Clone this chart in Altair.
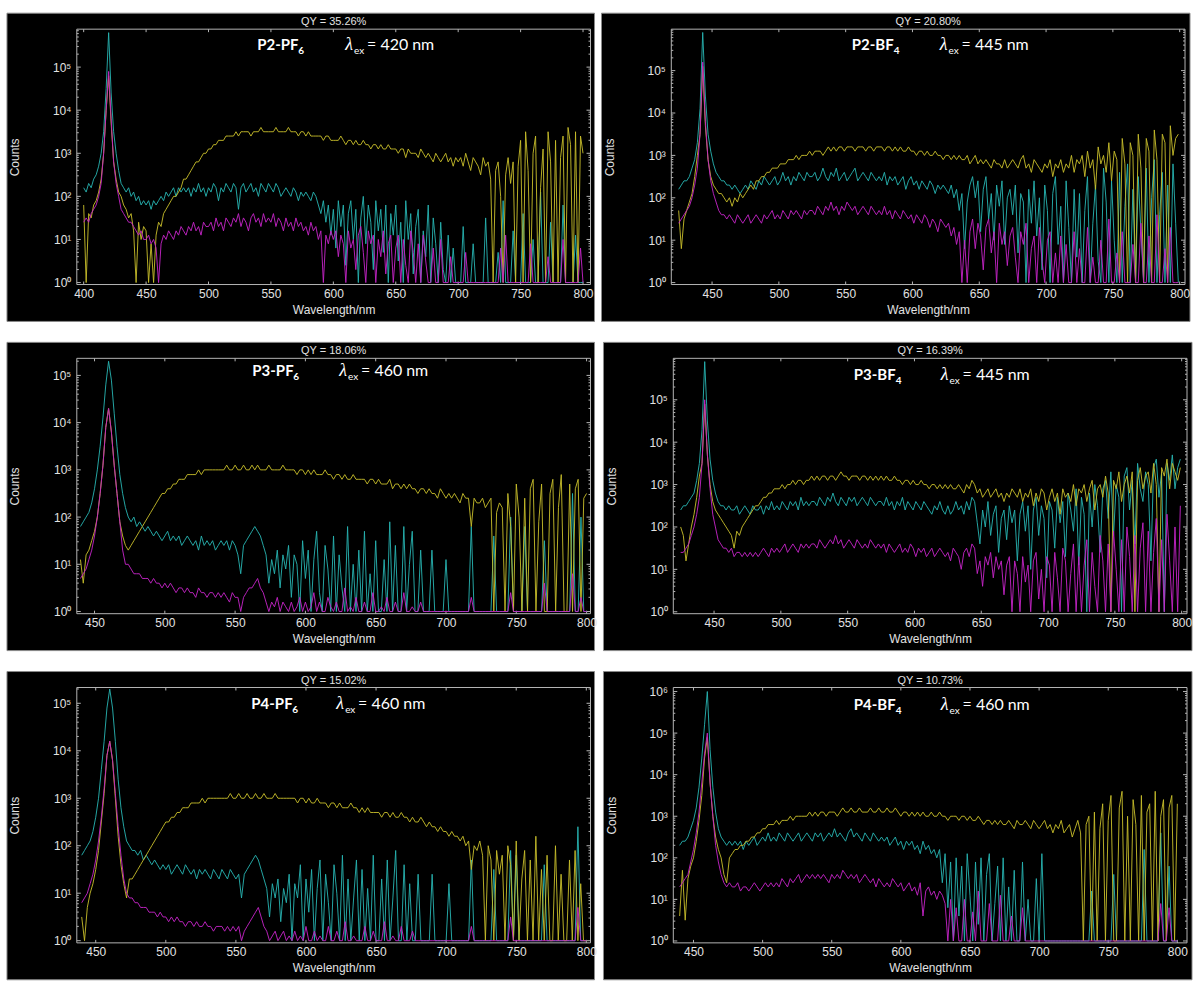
import altair as alt
import pandas as pd

# Emission spectra on a log count axis. Each trace is stored in dB
# (10*log10 of the counts), one sample every STEP_NM from the start wavelength.
STEP_NM = 2

# ---------------- P2-PF6, excitation 420 nm ----------------
p2pf6_start = 400
p2pf6_cyan = [
    22, 21, 23, 22, 24, 25, 27, 30, 35, 45, 58, 44, 35, 30, 26, 23, 22, 21, 22, 20, 21, 19, 20, 18, 19,
    18, 19, 17, 19, 18, 19, 20, 19, 21, 20, 21, 22, 20, 22, 21, 22, 21, 22, 20, 22, 21, 23, 21, 22, 20,
    22, 21, 23, 22, 19, 22, 21, 23, 22, 21, 23, 22, 17, 22, 23, 21, 22, 23, 21, 22, 20, 23, 22, 21, 23,
    22, 21, 23, 22, 20, 21, 22, 21, 20, 22, 21, 19, 21, 20, 21, 20, 19, 21, 20, 18, 16, 19, 14, 18, 11,
    17, 8, 19, 13, 18, 4, 16, 19, 10, 17, 0, 15, 20, 9, 18, 14, 3, 19, 12, 17, 7, 18, 0, 16, 11,
    18, 5, 14, 0, 19, 10, 16, 2, 13, 17, 0, 12, 6, 18, 0, 15, 9, 0, 14, 3, 0, 11, 0, 8, 0,
    0, 0, 13, 0, 0, 0, 9, 0, 0, 0, 0, 15, 0, 0, 0, 0, 7, 0, 19, 0, 0, 0, 12, 0, 0,
    0, 16, 0, 0, 0, 10, 0, 0, 21, 0, 0, 0, 14, 0, 0, 0, 0, 18, 0, 0, 0, 0, 11, 0, 0,
    0,
]
p2pf6_magenta = [
    14, 15, 14, 16, 17, 18, 20, 23, 30, 40, 49, 38, 28, 23, 20, 17, 16, 15, 14, 14, 13, 12, 11, 12, 10,
    10, 11, 9, 10, 8, 0, 9, 11, 10, 12, 11, 10, 12, 11, 13, 12, 11, 13, 12, 14, 12, 13, 11, 14, 13,
    13, 14, 12, 15, 13, 14, 12, 15, 14, 13, 15, 14, 16, 13, 15, 14, 12, 15, 16, 14, 15, 13, 16, 14, 15,
    14, 16, 13, 15, 14, 12, 15, 13, 14, 12, 15, 13, 14, 12, 13, 11, 14, 12, 13, 10, 12, 0, 11, 9, 12,
    10, 12, 6, 11, 9, 0, 12, 8, 10, 3, 11, 13, 7, 0, 12, 9, 11, 0, 10, 6, 12, 2, 9, 11, 0,
    8, 11, 0, 10, 4, 0, 12, 7, 0, 9, 0, 11, 5, 0, 0, 8, 0, 0, 10, 0, 0, 0, 6, 0, 0,
    0, 0, 0, 7, 0, 0, 0, 0, 0, 0, 0, 0, 0, 0, 0, 0, 0, 8, 0, 11, 0, 0, 0, 0, 0,
    0, 0, 0, 0, 9, 0, 0, 0, 0, 0, 0, 6, 0, 0, 0, 0, 0, 10, 0, 0, 0, 0, 0, 0, 8,
    0,
]
p2pf6_yellow = [
    18, 0, 16, 15, 18, 19, 21, 24, 30, 40, 48, 37, 28, 24, 21, 20, 18, 17, 15, 16, 12, 0, 14, 10, 13,
    12, 0, 9, 0, 11, 14, 13, 16, 17, 18, 19, 20, 20, 21, 22, 24, 24, 25, 26, 27, 28, 28, 29, 30, 30,
    31, 31, 32, 32, 33, 33, 33, 34, 34, 34, 34, 35, 34, 35, 35, 35, 35, 34, 35, 35, 35, 36, 35, 35, 35,
    35, 35, 36, 35, 35, 35, 35, 36, 35, 35, 35, 34, 35, 35, 34, 35, 34, 34, 34, 34, 34, 33, 34, 34, 33,
    33, 33, 33, 34, 33, 32, 33, 33, 32, 33, 32, 32, 33, 32, 32, 31, 32, 32, 31, 32, 31, 31, 32, 31, 31,
    31, 30, 31, 31, 29, 31, 30, 30, 30, 29, 31, 30, 29, 30, 29, 28, 30, 29, 28, 29, 30, 28, 29, 27, 29,
    28, 29, 27, 30, 28, 26, 29, 28, 27, 25, 29, 27, 28, 24, 0, 26, 28, 20, 0, 25, 29, 23, 28, 0, 27,
    33, 0, 35, 26, 0, 30, 34, 0, 22, 31, 0, 35, 28, 0, 33, 0, 29, 34, 0, 36, 32, 0, 35, 0, 34,
    30,
]

# ---------------- P2-BF4, excitation 445 nm ----------------
p2bf4_start = 425
p2bf4_cyan = [
    22, 23, 24, 24, 25, 27, 29, 33, 41, 59, 44, 35, 31, 28, 26, 25, 24, 24, 23, 23, 22, 23, 22, 21, 22,
    23, 22, 24, 23, 22, 24, 23, 25, 24, 23, 24, 25, 23, 24, 26, 24, 25, 23, 25, 24, 26, 25, 24, 26, 25,
    25, 26, 24, 25, 27, 25, 24, 26, 25, 27, 24, 25, 26, 24, 25, 26, 27, 24, 25, 26, 25, 24, 26, 25, 24,
    25, 24, 26, 23, 25, 24, 25, 23, 24, 25, 22, 24, 25, 23, 24, 22, 24, 23, 22, 24, 23, 21, 23, 22, 23,
    22, 21, 23, 20, 22, 17, 21, 8, 19, 23, 25, 20, 24, 12, 22, 25, 15, 21, 10, 23, 18, 24, 9, 20, 22,
    16, 23, 7, 21, 19, 0, 22, 14, 24, 11, 20, 3, 23, 17, 0, 21, 25, 9, 18, 0, 24, 13, 0, 22, 6,
    21, 0, 17, 25, 0, 14, 23, 5, 0, 27, 19, 0, 24, 10, 0, 26, 0, 18, 28, 0, 22, 0, 25, 12, 0,
    27, 0, 20, 29, 0, 16, 26, 0, 23, 0, 28, 14, 0,
]
p2bf4_magenta = [
    14, 15, 16, 17, 18, 20, 23, 27, 35, 52, 38, 29, 24, 21, 19, 17, 16, 16, 15, 16, 15, 14, 16, 15, 14,
    15, 16, 14, 15, 16, 15, 14, 16, 15, 16, 17, 15, 16, 15, 17, 16, 15, 17, 16, 17, 16, 15, 17, 16, 17,
    17, 16, 18, 17, 16, 18, 17, 19, 17, 18, 16, 18, 17, 19, 18, 17, 18, 16, 17, 18, 17, 16, 18, 17, 16,
    17, 16, 18, 16, 17, 15, 17, 16, 15, 17, 16, 15, 16, 14, 16, 15, 14, 16, 15, 13, 15, 14, 12, 15, 14,
    13, 14, 11, 13, 9, 12, 0, 10, 0, 12, 15, 8, 14, 11, 3, 13, 15, 7, 12, 0, 14, 9, 12, 4, 11,
    13, 6, 0, 12, 9, 14, 0, 8, 11, 0, 13, 5, 0, 10, 12, 0, 7, 0, 11, 0, 9, 0, 0, 12, 0,
    8, 0, 0, 13, 0, 6, 0, 0, 10, 0, 0, 15, 0, 0, 7, 0, 12, 0, 0, 0, 9, 0, 0, 14, 0,
    0, 11, 0, 0, 16, 0, 0, 8, 0, 13, 0, 0, 0,
]
p2bf4_yellow = [
    17, 8, 15, 17, 19, 21, 25, 30, 35, 51, 37, 29, 25, 23, 22, 21, 21, 20, 19, 20, 18, 20, 19, 21, 20,
    21, 22, 23, 22, 24, 24, 25, 25, 26, 26, 27, 27, 27, 28, 28, 28, 29, 29, 29, 30, 29, 30, 30, 30, 31,
    30, 31, 31, 31, 30, 31, 32, 31, 32, 31, 32, 32, 31, 32, 32, 32, 31, 32, 32, 32, 31, 32, 32, 31, 32,
    32, 32, 31, 32, 32, 31, 32, 31, 32, 31, 31, 32, 31, 31, 30, 31, 31, 30, 31, 30, 30, 31, 30, 30, 29,
    30, 30, 29, 30, 29, 30, 29, 29, 30, 28, 29, 30, 28, 29, 28, 29, 28, 27, 29, 28, 28, 27, 29, 27, 28,
    29, 28, 27, 29, 30, 27, 28, 26, 29, 28, 27, 26, 28, 27, 29, 25, 28, 27, 29, 26, 28, 27, 30, 26, 29,
    28, 30, 25, 31, 27, 29, 22, 32, 28, 30, 26, 33, 24, 31, 29, 0, 34, 28, 0, 33, 30, 0, 35, 27, 0,
    34, 31, 0, 36, 29, 0, 35, 33, 0, 37, 30, 34, 35,
]

# ---------------- P3-PF6, excitation 460 nm ----------------
p3pf6_start = 440
p3pf6_cyan = [
    18, 19, 20, 21, 23, 26, 30, 35, 41, 48, 53, 49, 42, 35, 29, 25, 22, 20, 19, 20, 18, 19, 18, 17, 18,
    17, 16, 17, 16, 15, 16, 17, 15, 16, 15, 16, 14, 15, 16, 15, 14, 15, 13, 16, 14, 15, 14, 15, 13, 14,
    15, 14, 15, 13, 15, 14, 12, 8, 14, 15, 16, 17, 18, 17, 16, 14, 12, 6, 11, 8, 13, 5, 12, 9, 14,
    3, 12, 10, 0, 15, 7, 13, 0, 11, 17, 4, 0, 14, 9, 0, 16, 0, 12, 5, 0, 18, 0, 10, 0, 13,
    0, 17, 0, 8, 0, 15, 0, 0, 11, 0, 19, 0, 14, 0, 0, 18, 0, 10, 17, 0, 0, 13, 0, 0, 0,
    13, 0, 0, 0, 0, 11, 0, 0, 0, 0, 0, 0, 0, 0, 18, 0, 0, 0, 0, 0, 0, 0, 16, 0, 0,
    0, 0, 0, 20, 0, 0, 0, 0, 18, 0, 0, 0, 0, 0, 0, 15, 0, 0, 0, 0, 0, 0, 0, 0, 0,
    25, 0, 0, 20, 0, 0,
]
p3pf6_magenta = [
    7, 8, 9, 11, 13, 16, 20, 25, 31, 39, 43, 38, 31, 25, 19, 13, 10, 10, 9, 8, 8, 8, 7, 7, 7,
    6, 7, 6, 6, 5, 6, 5, 6, 5, 4, 5, 5, 4, 5, 4, 4, 3, 5, 4, 4, 3, 4, 4, 3, 4,
    3, 4, 3, 2, 4, 3, 3, 0, 3, 4, 5, 5, 6, 7, 5, 4, 2, 0, 2, 1, 3, 0, 2, 1, 0,
    2, 0, 1, 3, 0, 2, 0, 1, 4, 0, 2, 0, 0, 3, 1, 0, 2, 0, 0, 5, 0, 1, 0, 3, 0,
    0, 2, 0, 0, 4, 0, 0, 1, 0, 3, 0, 0, 2, 0, 0, 4, 0, 0, 1, 0, 0, 2, 0, 0, 0,
    0, 0, 0, 0, 0, 0, 0, 0, 0, 0, 0, 0, 0, 0, 3, 0, 0, 0, 0, 0, 0, 0, 0, 0, 0,
    0, 0, 0, 4, 0, 0, 0, 0, 0, 0, 0, 0, 0, 0, 0, 6, 0, 0, 0, 0, 0, 0, 0, 0, 0,
    8, 0, 0, 3, 0, 0,
]
p3pf6_yellow = [
    11, 6, 12, 13, 15, 17, 20, 25, 31, 39, 43, 38, 31, 25, 19, 16, 14, 13, 14, 15, 16, 17, 18, 19, 20,
    21, 22, 23, 24, 25, 25, 26, 26, 27, 27, 28, 28, 28, 29, 29, 29, 29, 30, 29, 30, 30, 30, 30, 30, 30,
    30, 30, 31, 30, 30, 31, 30, 30, 31, 30, 30, 31, 30, 31, 30, 30, 30, 31, 30, 30, 30, 30, 31, 30, 30,
    30, 30, 29, 30, 30, 29, 30, 29, 30, 29, 29, 29, 30, 29, 29, 28, 29, 29, 28, 29, 28, 28, 29, 28, 28,
    28, 28, 27, 28, 28, 27, 28, 27, 27, 27, 28, 26, 27, 27, 26, 27, 26, 27, 26, 26, 25, 26, 26, 25, 26,
    25, 25, 24, 26, 25, 24, 25, 24, 25, 24, 23, 25, 24, 24, 18, 24, 23, 23, 24, 22, 23, 24, 0, 21, 23,
    22, 0, 25, 18, 0, 27, 20, 0, 24, 0, 26, 28, 0, 19, 27, 0, 0, 25, 28, 0, 22, 29, 0, 0, 27,
    0, 26, 28, 0, 24, 25,
]

# ---------------- P3-BF4, excitation 445 nm ----------------
p3bf4_start = 425
p3bf4_cyan = [
    24, 25, 25, 26, 27, 28, 31, 35, 43, 59, 45, 36, 31, 28, 26, 25, 25, 24, 25, 24, 24, 25, 23, 24, 25,
    24, 23, 25, 24, 24, 25, 23, 25, 24, 26, 24, 25, 24, 26, 25, 24, 26, 25, 26, 24, 27, 25, 26, 25, 26,
    26, 25, 27, 26, 25, 27, 26, 28, 26, 25, 27, 26, 25, 27, 26, 27, 25, 26, 27, 26, 25, 27, 26, 25, 26,
    26, 25, 27, 25, 26, 24, 26, 25, 27, 24, 26, 25, 24, 26, 25, 24, 26, 25, 24, 23, 25, 24, 26, 24, 23,
    25, 23, 24, 26, 24, 25, 23, 26, 24, 27, 26, 21, 16, 24, 20, 26, 18, 23, 25, 14, 22, 24, 17, 25, 21,
    24, 12, 23, 26, 19, 25, 10, 24, 27, 18, 25, 22, 8, 26, 24, 15, 27, 21, 26, 13, 28, 24, 19, 29, 11,
    27, 23, 0, 28, 20, 30, 25, 14, 29, 31, 22, 33, 18, 30, 27, 0, 32, 34, 24, 31, 16, 35, 29, 26, 33,
    30, 12, 34, 36, 27, 33, 0, 35, 31, 37, 29, 34, 36,
]
p3bf4_magenta = [
    14, 14, 15, 16, 18, 20, 23, 27, 35, 50, 37, 29, 23, 20, 17, 16, 15, 15, 14, 15, 13, 14, 14, 13, 14,
    13, 14, 13, 14, 13, 14, 15, 14, 13, 15, 14, 15, 14, 15, 16, 14, 15, 16, 15, 14, 16, 15, 16, 15, 16,
    16, 15, 17, 16, 15, 16, 17, 16, 18, 16, 17, 15, 16, 17, 16, 15, 17, 16, 15, 16, 15, 17, 16, 15, 16,
    15, 16, 14, 16, 15, 14, 15, 16, 14, 15, 14, 16, 15, 13, 15, 14, 15, 13, 14, 15, 13, 14, 15, 14, 13,
    14, 12, 15, 14, 13, 10, 14, 15, 13, 16, 15, 9, 12, 6, 13, 11, 14, 8, 13, 10, 12, 4, 11, 13, 0,
    12, 9, 0, 13, 7, 11, 0, 12, 14, 3, 10, 0, 13, 11, 0, 14, 8, 0, 15, 12, 0, 9, 16, 0, 13,
    0, 11, 17, 0, 14, 6, 0, 18, 12, 0, 16, 0, 19, 10, 0, 17, 0, 20, 13, 0, 18, 0, 15, 21, 0,
    19, 0, 14, 22, 0, 17, 0, 23, 12, 0, 20, 0, 25,
]
p3bf4_yellow = [
    20, 18, 12, 16, 20, 23, 27, 32, 35, 49, 37, 30, 26, 24, 23, 22, 21, 20, 19, 18, 15, 19, 18, 20, 21,
    22, 23, 24, 25, 25, 26, 27, 27, 28, 28, 29, 29, 29, 30, 29, 30, 30, 31, 30, 31, 31, 30, 31, 31, 32,
    31, 32, 31, 32, 32, 31, 32, 32, 31, 32, 33, 32, 32, 31, 32, 32, 32, 31, 32, 32, 31, 32, 31, 32, 31,
    32, 31, 32, 31, 31, 32, 31, 31, 30, 31, 31, 30, 31, 30, 30, 31, 30, 30, 29, 30, 30, 29, 30, 29, 30,
    29, 30, 29, 29, 30, 29, 28, 30, 29, 31, 30, 28, 29, 27, 28, 29, 27, 28, 29, 27, 28, 26, 28, 27, 29,
    28, 27, 29, 26, 28, 27, 29, 25, 28, 26, 29, 28, 24, 27, 29, 26, 28, 23, 29, 27, 28, 26, 30, 25, 29,
    28, 30, 26, 29, 31, 24, 29, 30, 27, 32, 28, 0, 31, 29, 33, 26, 30, 32, 28, 33, 0, 31, 34, 29, 32,
    33, 28, 35, 30, 0, 34, 32, 36, 29, 35, 33, 31, 34,
]

# ---------------- P4-PF6, excitation 460 nm ----------------
p4pf6_start = 440
p4pf6_cyan = [
    18, 19, 20, 21, 23, 26, 30, 36, 42, 49, 53, 49, 42, 34, 28, 24, 21, 20, 19, 19, 18, 19, 17, 18, 17,
    16, 17, 16, 15, 16, 15, 16, 14, 15, 16, 15, 14, 16, 15, 14, 15, 13, 15, 14, 15, 14, 13, 15, 14, 13,
    15, 14, 13, 15, 14, 13, 14, 9, 14, 15, 16, 17, 18, 17, 15, 13, 11, 5, 12, 9, 13, 4, 11, 8, 14,
    0, 12, 9, 16, 0, 13, 6, 15, 0, 11, 17, 0, 14, 8, 0, 16, 10, 0, 18, 0, 13, 0, 9, 17, 0,
    15, 0, 11, 0, 18, 0, 0, 13, 0, 17, 0, 9, 19, 0, 0, 16, 0, 12, 0, 0, 14, 0, 0, 0, 0,
    14, 0, 0, 0, 0, 0, 12, 0, 0, 0, 0, 0, 0, 0, 17, 0, 0, 0, 0, 0, 0, 0, 15, 0, 0,
    0, 0, 0, 19, 0, 18, 0, 0, 0, 0, 0, 0, 0, 0, 0, 16, 0, 0, 0, 0, 0, 0, 0, 0, 0,
    0, 0, 24, 0, 0, 0,
]
p4pf6_magenta = [
    8, 9, 10, 12, 14, 17, 21, 26, 32, 39, 42, 38, 31, 24, 18, 13, 10, 9, 9, 8, 8, 7, 7, 7, 6,
    6, 6, 5, 6, 5, 5, 4, 5, 4, 5, 4, 4, 3, 4, 4, 3, 4, 3, 3, 4, 3, 3, 2, 3, 3,
    3, 2, 3, 2, 3, 2, 3, 0, 2, 3, 4, 5, 6, 7, 5, 3, 2, 0, 1, 2, 0, 1, 2, 0, 1,
    0, 2, 0, 1, 0, 3, 0, 0, 2, 0, 1, 0, 0, 3, 0, 0, 2, 0, 0, 4, 0, 0, 1, 0, 0,
    0, 3, 0, 0, 2, 0, 0, 0, 4, 0, 0, 1, 0, 0, 3, 0, 0, 0, 2, 0, 0, 0, 0, 0, 0,
    0, 0, 0, 0, 0, 0, 0, 0, 0, 0, 0, 0, 0, 0, 3, 0, 0, 0, 0, 0, 0, 0, 0, 0, 0,
    0, 0, 0, 5, 0, 0, 0, 0, 0, 0, 0, 0, 0, 0, 0, 0, 0, 0, 0, 0, 0, 0, 0, 0, 0,
    0, 0, 7, 0, 0, 0,
]
p4pf6_yellow = [
    5, 0, 7, 10, 12, 15, 19, 25, 31, 39, 42, 38, 30, 22, 16, 12, 9, 13, 13, 14, 15, 16, 17, 18, 19,
    20, 21, 22, 23, 24, 25, 25, 26, 26, 27, 27, 28, 28, 28, 29, 29, 29, 29, 30, 29, 30, 30, 30, 30, 30,
    30, 30, 30, 31, 30, 30, 31, 30, 30, 31, 30, 30, 31, 30, 30, 31, 30, 30, 30, 31, 30, 30, 30, 30, 30,
    30, 30, 29, 30, 30, 29, 30, 29, 29, 30, 29, 29, 29, 28, 29, 29, 28, 29, 28, 28, 28, 29, 28, 28, 27,
    28, 27, 28, 27, 27, 27, 27, 26, 27, 27, 26, 27, 26, 26, 27, 26, 26, 25, 26, 25, 25, 26, 25, 24, 25,
    24, 24, 23, 24, 23, 23, 22, 23, 22, 22, 21, 22, 20, 21, 15, 20, 19, 21, 18, 0, 20, 17, 0, 19, 14,
    18, 0, 20, 16, 0, 21, 0, 13, 19, 0, 17, 0, 22, 0, 15, 0, 18, 0, 0, 20, 0, 14, 0, 0, 17,
    0, 19, 0, 12, 0, 0,
]

# ---------------- P4-BF4, excitation 460 nm ----------------
p4bf4_start = 440
p4bf4_cyan = [
    23, 24, 24, 25, 27, 29, 32, 37, 44, 52, 60, 46, 37, 31, 27, 25, 24, 23, 24, 23, 24, 23, 24, 22, 24,
    23, 24, 25, 23, 24, 25, 24, 26, 24, 25, 24, 26, 25, 24, 26, 25, 24, 25, 26, 24, 25, 26, 25, 24, 26,
    25, 26, 24, 25, 26, 25, 27, 25, 26, 25, 24, 26, 27, 25, 26, 25, 24, 26, 25, 24, 26, 25, 24, 25, 24,
    25, 23, 24, 25, 23, 24, 22, 24, 23, 24, 22, 23, 21, 24, 22, 23, 21, 22, 20, 22, 14, 21, 8, 19, 0,
    20, 6, 18, 0, 21, 11, 0, 19, 4, 20, 0, 16, 21, 0, 9, 18, 0, 20, 0, 13, 0, 17, 0, 0, 19,
    0, 10, 0, 0, 15, 0, 21, 0, 0, 0, 0, 0, 0, 0, 0, 0, 0, 0, 0, 0, 0, 0, 0, 0, 12,
    0, 0, 0, 0, 0, 0, 0, 16, 0, 0, 0, 0, 0, 0, 0, 0, 0, 0, 22, 0, 0, 0, 0, 0, 26,
    0, 0, 18, 0, 0, 0,
]
p4bf4_magenta = [
    13, 14, 15, 16, 19, 22, 26, 31, 38, 45, 50, 38, 30, 23, 19, 16, 14, 13, 14, 13, 13, 14, 12, 13, 13,
    12, 13, 14, 13, 12, 13, 14, 13, 14, 13, 14, 13, 15, 14, 13, 15, 14, 15, 16, 14, 15, 16, 15, 16, 15,
    16, 15, 16, 15, 14, 16, 15, 16, 15, 17, 16, 15, 16, 15, 16, 14, 15, 16, 15, 14, 15, 13, 15, 14, 13,
    14, 13, 15, 14, 13, 14, 12, 13, 14, 12, 13, 11, 14, 6, 12, 13, 11, 12, 10, 12, 11, 9, 0, 10, 0,
    8, 0, 0, 10, 0, 0, 7, 0, 12, 0, 0, 0, 9, 0, 0, 0, 11, 0, 0, 0, 6, 0, 0, 0, 8,
    0, 0, 0, 0, 0, 0, 0, 0, 0, 0, 0, 0, 0, 0, 0, 0, 0, 0, 0, 0, 0, 0, 0, 0, 0,
    0, 0, 0, 0, 0, 0, 0, 0, 0, 0, 0, 0, 0, 0, 0, 0, 0, 0, 0, 0, 0, 0, 0, 0, 9,
    0, 0, 8, 0, 0, 0,
]
p4bf4_yellow = [
    6, 17, 5, 15, 18, 20, 24, 29, 35, 44, 49, 38, 30, 25, 22, 20, 16, 14, 20, 21, 22, 22, 23, 23, 24,
    24, 25, 25, 26, 26, 27, 27, 28, 28, 28, 29, 28, 29, 29, 29, 30, 29, 30, 30, 30, 30, 30, 31, 30, 31,
    30, 31, 31, 30, 31, 31, 31, 30, 31, 32, 31, 31, 32, 31, 31, 32, 31, 31, 31, 32, 31, 31, 32, 31, 31,
    32, 31, 31, 32, 31, 30, 31, 31, 30, 31, 30, 31, 30, 31, 30, 30, 31, 30, 30, 31, 30, 30, 29, 30, 30,
    30, 29, 30, 30, 29, 30, 29, 29, 30, 29, 28, 29, 29, 28, 29, 28, 29, 28, 28, 29, 28, 27, 29, 28, 28,
    29, 28, 27, 29, 28, 27, 28, 29, 27, 28, 26, 28, 27, 29, 26, 27, 28, 25, 27, 29, 26, 0, 28, 30, 0,
    31, 0, 27, 33, 0, 29, 35, 0, 0, 32, 36, 0, 30, 0, 34, 28, 0, 35, 0, 31, 33, 0, 36, 0, 30,
    34, 0, 32, 35, 0, 33,
]

# ---------------- styling ----------------
CYAN = "#27b3b1"
MAGENTA = "#c424c6"
YELLOW = "#c6bd2a"
TEXT = "#e2e2e2"
FRAME = "#b4b4b4"
BOX_EDGE = "#8a8a8a"
AXIS_FONT = "Liberation Sans"
NOTE_FONT = "Lato, DejaVu Sans"

W, H = 515, 256            # plot area of every panel
PAD_L, PAD_T, PAD_B = 70, 16, 37
SUP = ["⁰", "¹", "²", "³", "⁴", "⁵", "⁶"]

panels = [
    dict(start=p2pf6_start, cyan=p2pf6_cyan, magenta=p2pf6_magenta, yellow=p2pf6_yellow,
         name="P2-PF", sub="6", wave="= 420 nm", qy="QY = 35.26%", xdom=[394.5, 806],
         xticks=list(range(400, 801, 50)), ytop=7.6e5, name_x=181, sub_dx=41, lam_x=269, cy=16),
    dict(start=p2bf4_start, cyan=p2bf4_cyan, magenta=p2bf4_magenta, yellow=p2bf4_yellow,
         name="P2-BF", sub="4", wave="= 445 nm", qy="QY = 20.80%", xdom=[419.5, 804],
         xticks=list(range(450, 801, 50)), ytop=9.5e5, name_x=181, sub_dx=42, lam_x=269, cy=16),
    dict(start=p3pf6_start, cyan=p3pf6_cyan, magenta=p3pf6_magenta, yellow=p3pf6_yellow,
         name="P3-PF", sub="6", wave="= 460 nm", qy="QY = 18.06%", xdom=[437.4, 802.8],
         xticks=list(range(450, 801, 50)), ytop=2.3e5, name_x=176, sub_dx=41, lam_x=263, cy=13),
    dict(start=p3bf4_start, cyan=p3bf4_cyan, magenta=p3bf4_magenta, yellow=p3bf4_yellow,
         name="P3-BF", sub="4", wave="= 445 nm", qy="QY = 16.39%", xdom=[419.5, 804],
         xticks=list(range(450, 801, 50)), ytop=9.5e5, name_x=181, sub_dx=42, lam_x=268, cy=17),
    dict(start=p4pf6_start, cyan=p4pf6_cyan, magenta=p4pf6_magenta, yellow=p4pf6_yellow,
         name="P4-PF", sub="6", wave="= 460 nm", qy="QY = 15.02%", xdom=[436.5, 803],
         xticks=list(range(450, 801, 50)), ytop=2.15e5, name_x=175, sub_dx=41, lam_x=260, cy=17),
    dict(start=p4bf4_start, cyan=p4bf4_cyan, magenta=p4bf4_magenta, yellow=p4bf4_yellow,
         name="P4-BF", sub="4", wave="= 460 nm", qy="QY = 10.73%", xdom=[435.4, 807],
         xticks=list(range(450, 801, 50)), ytop=1.25e6, name_x=181, sub_dx=42, lam_x=268, cy=18),
]
PAD_R = [4, 5, 4, 5, 4, 5]

ONE = pd.DataFrame({"k": [0]})


def trace_frame(start, db):
    return pd.DataFrame({
        "wavelength": [start + STEP_NM * i for i in range(len(db))],
        "counts": [10 ** (v / 10) for v in db],
    })


def note(text, x, y, size, weight="normal", style="normal", font=NOTE_FONT, align="left", color="white"):
    return alt.Chart(ONE).mark_text(
        text=text, align=align, baseline="alphabetic", font=font, fontSize=size,
        fontWeight=weight, fontStyle=style, color=color,
    ).encode(x=alt.value(x), y=alt.value(y))


def panel(p, pad_r):
    xscale = alt.Scale(domain=p["xdom"], nice=False, zero=False)
    yscale = alt.Scale(type="log", domain=[0.9, p["ytop"]], nice=False)
    decades = [10 ** k for k in range(0, 7) if 10 ** k <= p["ytop"]]
    minors = [m * 10 ** k for k in range(0, 7) for m in range(2, 10) if m * 10 ** k < p["ytop"]]

    x_enc = alt.X("wavelength:Q", scale=xscale, axis=alt.Axis(
        values=p["xticks"], title="Wavelength/nm", grid=False, domain=False, ticks=False,
        labelFont=AXIS_FONT, labelFontSize=12, labelColor=TEXT, labelPadding=4, labelFlush=False,
        titleFont=AXIS_FONT, titleFontSize=12, titleFontWeight="normal", titleColor=TEXT,
        titlePadding=5, zindex=1))
    y_enc = alt.Y("counts:Q", scale=yscale, axis=alt.Axis(
        values=decades, title="Counts", grid=False, domain=False, ticks=False,
        labelExpr="'10' + " + str(SUP).replace(" ", "") + "[round(log(datum.value) / LN10)]",
        labelFont=AXIS_FONT, labelFontSize=12, labelColor=TEXT, labelPadding=6,
        titleFont=AXIS_FONT, titleFontSize=12, titleFontWeight="normal", titleColor=TEXT,
        titleX=-62, titleY=H / 2, titleAlign="center", titleBaseline="middle", zindex=1))

    # black panel behind the plot, its axes and its labels
    layers = [alt.Chart(ONE).mark_rect(fill="black", stroke=BOX_EDGE, strokeWidth=1).encode(
        x=alt.value(-PAD_L), x2=alt.value(W + pad_r), y=alt.value(-PAD_T), y2=alt.value(H + PAD_B))]

    # small inward ticks on the frame
    minor_df = pd.DataFrame({"counts": minors})
    major_df = pd.DataFrame({"counts": decades})
    xt_df = pd.DataFrame({"wavelength": p["xticks"]})
    for df, x0, x1 in ((minor_df, 0, 2), (minor_df, W - 2, W), (major_df, 0, 4), (major_df, W - 4, W)):
        layers.append(alt.Chart(df).mark_rule(color=FRAME, strokeWidth=1).encode(
            y=y_enc, x=alt.value(x0), x2=alt.value(x1)))
    for y0, y1 in ((0, 3), (H - 3, H)):
        layers.append(alt.Chart(xt_df).mark_rule(color=FRAME, strokeWidth=1).encode(
            x=x_enc, y=alt.value(y0), y2=alt.value(y1)))

    for key, color in (("cyan", CYAN), ("yellow", YELLOW), ("magenta", MAGENTA)):
        layers.append(
            alt.Chart(trace_frame(p["start"], p[key])).mark_line(
                color=color, strokeWidth=1, opacity=0.92).encode(x=x_enc, y=y_enc))

    layers.append(alt.Chart(ONE).mark_rect(fill="black", fillOpacity=0, stroke=FRAME, strokeWidth=1).encode(
        x=alt.value(0), x2=alt.value(W), y=alt.value(0), y2=alt.value(H)))

    base = p["cy"] + 5
    layers += [
        note(p["qy"], W / 2, -4, 11, font=AXIS_FONT, align="center", color=TEXT),
        note(p["name"], p["name_x"], base, 15, weight="bold"),
        note(p["sub"], p["name_x"] + p["sub_dx"], base + 4, 10, weight="bold"),
        note("λ", p["lam_x"], base, 18, style="italic", font="Liberation Serif"),
        note("ex", p["lam_x"] + 9, base + 4, 10),
        note(p["wave"], p["lam_x"] + 22, base, 16),
    ]

    return alt.layer(*layers).properties(width=W, height=H)


rows = []
for i in range(0, 6, 2):
    rows.append(alt.hconcat(panel(panels[i], PAD_R[i]), panel(panels[i + 1], PAD_R[i + 1]), spacing=5))

chart = alt.vconcat(*rows, spacing=19).configure(
    background="white",
    padding={"left": 6, "top": 11, "right": 0, "bottom": 0},
).configure_view(stroke="transparent")

chart.save("out.html", embed_options={"renderer": "svg", "actions": False})
